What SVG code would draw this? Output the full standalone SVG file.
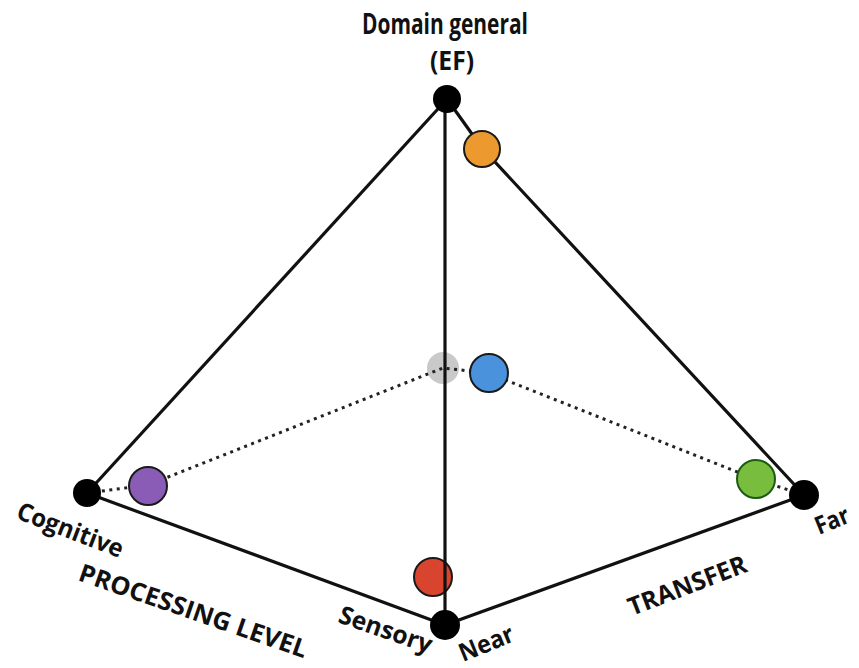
<svg xmlns="http://www.w3.org/2000/svg" width="859" height="668" viewBox="0 0 859 668">
<style>
.lbl{font-family:"Open Sans","Liberation Sans",sans-serif;font-weight:700;fill:#111;font-size:25px}
.solid{stroke:#111;stroke-width:3.2;fill:none;stroke-linejoin:round}
.dot{stroke:#222;stroke-width:3;fill:none;stroke-dasharray:3 4.5}
.vtx{fill:#000}
.pt{stroke:#1a1a1a;stroke-width:2}
</style>
<rect width="859" height="668" fill="#fff"/>
<g id="labels">
<text class="lbl" x="445" y="34" text-anchor="middle" textLength="166" lengthAdjust="spacingAndGlyphs" style="font-size:28px">Domain general</text>
<text class="lbl" x="452" y="70" text-anchor="middle" textLength="44" lengthAdjust="spacingAndGlyphs" style="font-size:26px">(EF)</text>
<text class="lbl" transform="translate(15,518) rotate(21)" textLength="112" lengthAdjust="spacingAndGlyphs">Cognitive</text>
<text class="lbl" transform="translate(77,580) rotate(19)" textLength="240" lengthAdjust="spacingAndGlyphs">PROCESSING LEVEL</text>
<text class="lbl" transform="translate(337,622) rotate(19)" textLength="97" lengthAdjust="spacingAndGlyphs">Sensory</text>
<text class="lbl" transform="translate(463,662) rotate(-22)" textLength="57" lengthAdjust="spacingAndGlyphs">Near</text>
<text class="lbl" transform="translate(632,616) rotate(-21)" textLength="125" lengthAdjust="spacingAndGlyphs">TRANSFER</text>
<text class="lbl" transform="translate(819,535) rotate(-22)" textLength="35" lengthAdjust="spacingAndGlyphs">Far</text>
</g>
<g id="gray"><circle cx="443" cy="368" r="16" fill="#c9c9c9"/></g>
<g id="red"><circle class="pt" cx="433" cy="577" r="19" fill="#d9442e"/></g>
<g id="connectors">
<polyline class="dot" points="87,493 148,485 443,368 488,373 755,479 804,495"/>
<line class="solid" x1="447" y1="99" x2="87" y2="493"/>
<polyline class="solid" points="447,99 482,148 804,495"/>
<line class="solid" x1="445" y1="99" x2="445" y2="625"/>
<line class="solid" x1="87" y1="493" x2="445" y2="625"/>
<line class="solid" x1="445" y1="625" x2="804" y2="495"/>
</g>
<g id="orange"><circle class="pt" cx="482" cy="149" r="18" fill="#ec9a2f"/></g>
<g id="purple"><circle class="pt" cx="148" cy="486" r="19" fill="#8a5cb6"/></g>
<g id="blue"><circle class="pt" cx="489" cy="373" r="19" fill="#4a92dc"/></g>
<g id="green"><circle class="pt" cx="756" cy="479" r="19" fill="#79bd3e" style="stroke:#1d5a12"/></g>
<g id="domain-general"><circle class="vtx" cx="447" cy="99" r="14"/></g>
<g id="cognitive"><circle class="vtx" cx="87" cy="493" r="14"/></g>
<g id="near"><circle class="vtx" cx="445" cy="625" r="15"/></g>
<g id="far"><circle class="vtx" cx="804" cy="495" r="15"/></g>
</svg>
